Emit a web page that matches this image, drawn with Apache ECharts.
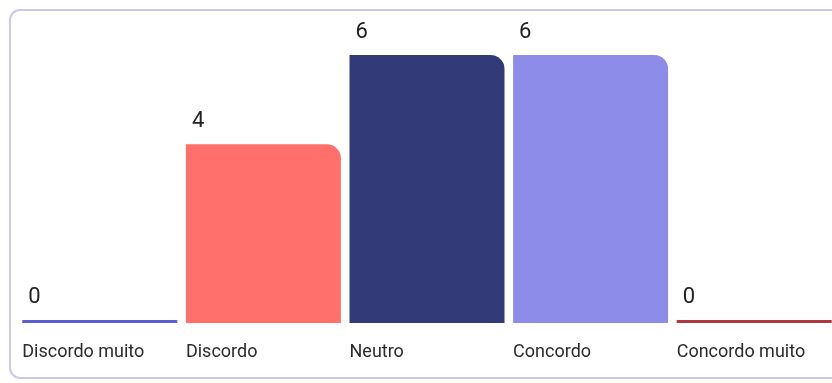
<!DOCTYPE html>
<html>
<head>
<meta charset="utf-8">
<style>
  html, body { margin: 0; padding: 0; background: #ffffff; overflow: hidden; }
  #wrap { position: relative; width: 832px; height: 383px; overflow: hidden; }
  #chart { position: absolute; left: 0; top: 0; width: 840px; height: 383px; }
</style>
<script src="https://cdn.jsdelivr.net/npm/echarts@6/dist/echarts.min.js"></script>
</head>
<body>
<div id="wrap">
  <div id="chart"></div>
</div>
<script>
// Survey answers on a five-point agreement scale
const categories = ['Discordo muito', 'Discordo', 'Neutro', 'Concordo', 'Concordo muito'];
const counts = [0, 4, 6, 6, 0];
const barColors = ['#5a5fd4', '#ff6f6b', '#323b78', '#8e8ce9', '#ae383d'];

const chart = echarts.init(document.getElementById('chart'));

chart.setOption({
  animation: false,
  // card outline; its right side runs past the visible area
  graphic: [{
    type: 'rect',
    z: -10,
    shape: { x: 10, y: 10, width: 880, height: 368, r: 10 },
    style: { fill: 'none', stroke: '#cbc7ef', lineWidth: 2 }
  }],
  grid: { left: 18, right: 4, top: 55, bottom: 60 },
  xAxis: {
    type: 'category',
    data: categories,
    axisLine: { show: false },
    axisTick: { show: false },
    axisLabel: {
      margin: 20,
      formatter: v => '{t|' + v + '}',
      rich: {
        t: { width: 155, align: 'left', fontSize: 18, color: '#2b2b2b', fontFamily: 'Roboto' }
      }
    }
  },
  yAxis: {
    type: 'value',
    min: 0,
    max: 6,
    show: false
  },
  series: [{
    type: 'bar',
    barWidth: 155,
    barMinHeight: 3,
    data: counts.map((v, i) => ({
      value: v,
      itemStyle: { color: barColors[i], borderRadius: v === 0 ? 0 : [0, 14, 0, 0] }
    })),
    label: {
      show: true,
      position: [6, -23],
      align: 'left',
      verticalAlign: 'middle',
      fontSize: 22,
      color: '#222222',
      fontFamily: 'Roboto'
    }
  }]
});
</script>
</body>
</html>
